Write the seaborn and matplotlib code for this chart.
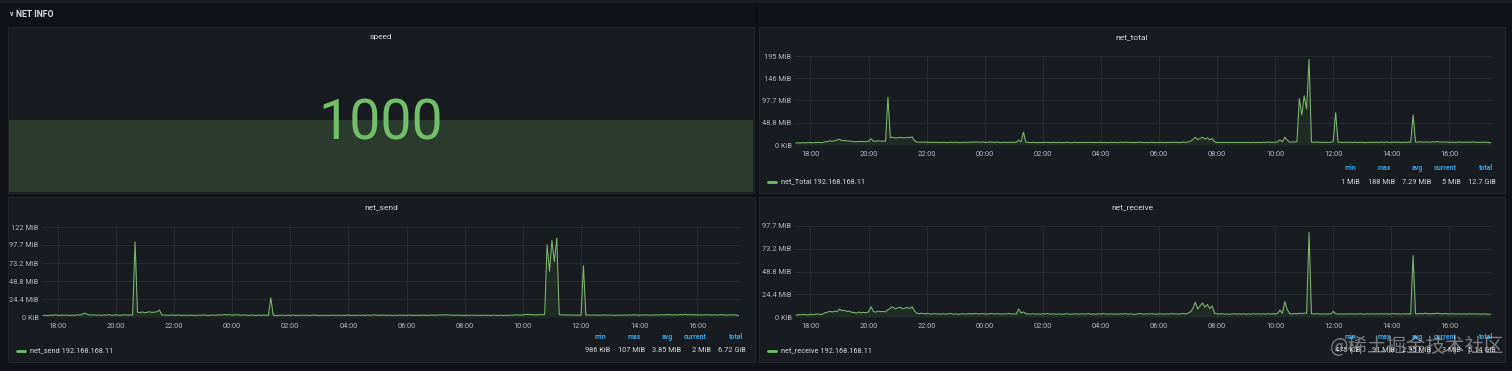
import matplotlib
matplotlib.use("Agg")
import pandas as pd
import matplotlib.pyplot as plt
import matplotlib.dates as mdates
from matplotlib.patches import Rectangle
import seaborn as sns

# ---------------- data ----------------
START = "2021-06-01 17:30"
STEP = "5min"
HOST = "192.168.168.11"
speed_value = 1000

# one row per hour (5-minute samples), first row starts 17:30, values in MiB
net_send = [
    2.1, 2.4, 1.9, 2.6, 2.2, 3.0, 2.5, 2.0, 2.8, 2.3, 2.6, 2.1,
    2.5, 2.2, 3.1, 2.7, 3.4, 5.2, 4.1, 3.0, 2.6, 2.9, 2.4, 2.7,
    2.3, 2.8, 2.5, 3.2, 2.6, 2.4, 3.0, 2.7, 2.2, 2.9, 3.1, 2.5,
    2.8, 2.6, 102, 6.5, 6.1, 6.8, 5.9, 6.4, 7.0, 6.2, 6.6, 7.1,
    9.5, 3.2, 2.4, 2.7, 2.2, 2.9, 2.5, 2.3, 2.8, 2.1, 2.6, 2.4,
    2.2, 2.7, 2.4, 2.0, 2.6, 2.3, 2.9, 2.5, 2.1, 2.4, 2.8, 2.3,
    2.6, 3.0, 2.7, 3.3, 2.9, 3.1, 2.5, 2.8, 3.2, 2.6, 2.4, 2.9,
    2.5, 2.2, 2.8, 2.4, 2.1, 2.6, 2.3, 2.7, 2.4, 2.2, 26.0, 2.5,
    2.3, 2.1, 2.6, 2.4, 2.0, 2.5, 2.2, 2.7, 2.3, 2.1, 2.4, 2.6,
    2.2, 2.5, 2.1, 2.4, 2.7, 2.3, 2.0, 2.6, 2.2, 2.4, 2.1, 2.5,
    2.4, 2.2, 2.6, 2.1, 2.5, 2.3, 2.7, 2.2, 2.4, 2.0, 2.6, 2.3,
    2.5, 2.1, 2.8, 2.3, 2.6, 3.0, 2.4, 2.2, 2.7, 2.5, 2.3, 2.6,
    2.2, 2.4, 2.1, 2.6, 2.3, 2.5, 2.2, 2.7, 2.4, 2.1, 2.5, 2.3,
    2.4, 2.6, 2.3, 2.2, 2.8, 2.5, 2.4, 2.7, 2.9, 2.6, 3.1, 2.8,
    2.7, 2.5, 2.3, 2.6, 2.2, 2.4, 2.1, 2.5, 2.3, 2.6, 2.2, 2.4,
    2.3, 2.1, 2.5, 2.2, 2.4, 2.0, 2.6, 2.3, 2.2, 2.5, 2.1, 2.4,
    2.2, 2.6, 2.4, 3.0, 2.7, 2.5, 2.9, 3.2, 3.6, 3.1, 3.4, 2.8,
    2.9, 3.3, 3.0, 3.6, 98.0, 62.0, 104.0, 75.0, 107.0, 3.2, 2.8, 3.1,
    2.6, 2.9, 2.5, 2.8, 2.4, 2.7, 2.3, 69.6, 2.6, 2.9, 2.5, 2.8,
    2.5, 2.7, 2.3, 2.9, 2.6, 2.4, 2.8, 2.5, 2.2, 2.7, 2.4, 2.6,
    2.8, 2.5, 2.9, 2.6, 3.1, 2.7, 2.4, 2.8, 2.6, 3.0, 2.5, 2.7,
    2.6, 2.9, 2.7, 3.2, 2.8, 3.0, 3.4, 2.9, 2.7, 3.1, 2.8, 3.3,
    3.0, 3.6, 2.9, 3.3, 2.8, 3.1, 2.7, 3.0, 2.6, 2.9, 3.2, 2.8,
    2.7, 3.0, 2.6, 2.9, 3.3, 2.8, 2.5, 2.9, 2.7, 3.1, 2.6, 2.0,
]

net_receive = [
    2.0, 2.6, 2.3, 2.9, 2.4, 2.2, 3.0, 2.5, 2.8, 3.3, 2.7, 3.1,
    4.5, 5.2, 6.0, 5.4, 6.3, 5.8, 8.6, 6.7, 7.2, 5.9, 6.4, 5.1,
    4.8, 4.2, 5.3, 4.6, 5.0, 4.4, 5.6, 11.0, 6.0, 5.2, 6.4, 5.8,
    6.0, 5.5, 7.8, 9.5, 11.0, 8.6, 9.8, 10.5, 8.9, 9.6, 10.2, 9.1,
    11.0, 6.5, 4.0, 3.6, 4.2, 3.3, 3.9, 3.5, 3.0, 3.7, 3.2, 3.4,
    3.1, 3.6, 2.9, 3.3, 3.8, 3.0, 3.5, 2.8, 3.2, 3.6, 3.0, 3.4,
    3.6, 3.2, 3.9, 3.4, 3.1, 3.7, 3.3, 3.0, 3.5, 3.8, 3.2, 3.6,
    3.3, 3.0, 3.5, 3.2, 3.8, 3.1, 3.4, 3.0, 8.6, 4.2, 5.5, 3.6,
    3.4, 3.1, 3.6, 3.0, 3.3, 2.9, 3.5, 3.2, 3.7, 3.0, 3.4, 3.1,
    3.0, 3.4, 2.8, 3.2, 3.6, 3.1, 2.9, 3.5, 3.3, 3.0, 3.4, 3.2,
    3.2, 3.6, 3.0, 3.3, 2.9, 3.5, 3.1, 3.7, 3.2, 3.0, 3.4, 3.1,
    3.3, 2.9, 3.5, 3.2, 3.6, 3.0, 3.4, 3.1, 2.8, 3.3, 3.7, 3.2,
    3.0, 3.4, 3.1, 3.6, 3.2, 2.9, 3.5, 3.3, 3.0, 3.4, 3.1, 3.6,
    3.2, 3.5, 3.0, 3.4, 3.8, 3.3, 4.2, 5.5, 9.0, 16.0, 8.5, 12.0,
    15.0, 10.5, 13.5, 9.0, 11.8, 4.0, 3.4, 3.1, 3.6, 3.0, 3.3, 2.9,
    3.2, 3.5, 3.0, 3.4, 3.1, 3.6, 2.9, 3.3, 3.0, 3.5, 3.2, 3.4,
    3.1, 3.4, 3.0, 3.6, 3.2, 3.5, 3.3, 3.8, 7.5, 4.0, 16.4, 8.0,
    3.5, 3.2, 3.8, 3.4, 4.0, 3.6, 4.2, 3.9, 91.0, 3.5, 3.2, 3.6,
    3.3, 3.0, 3.4, 3.1, 3.5, 3.2, 6.0, 3.6, 3.1, 3.4, 3.0, 3.3,
    3.2, 3.5, 3.1, 3.4, 3.0, 3.6, 3.3, 2.9, 3.5, 3.2, 3.4, 3.1,
    3.4, 3.1, 3.6, 3.2, 3.5, 3.0, 3.3, 3.7, 3.2, 3.4, 3.0, 3.5,
    3.2, 3.5, 3.1, 66.0, 3.6, 3.3, 3.9, 3.4, 4.1, 3.6, 3.2, 3.8,
    3.5, 4.2, 3.6, 3.3, 3.8, 3.4, 3.1, 3.6, 3.3, 3.0, 3.5, 3.2,
    3.4, 3.0, 3.6, 3.2, 3.5, 3.1, 3.3, 2.9, 3.4, 3.2, 3.0, 3.0,
]

net_total = [
    4.1, 5.0, 4.2, 5.5, 4.6, 5.2, 5.5, 4.5, 5.6, 5.6, 5.3, 5.2,
    7.0, 7.4, 9.1, 8.1, 9.7, 11.0, 12.7, 9.7, 9.8, 8.8, 8.8, 7.8,
    7.1, 7.0, 7.8, 7.8, 7.6, 6.8, 8.6, 13.7, 8.2, 8.1, 9.5, 8.3,
    8.8, 8.1, 105.0, 16.0, 17.1, 15.4, 15.7, 16.9, 15.9, 15.8, 16.8, 16.2,
    18.0, 9.7, 6.4, 6.3, 6.4, 6.2, 6.4, 5.8, 5.8, 5.8, 5.8, 5.8,
    5.3, 6.3, 5.3, 5.3, 6.4, 5.3, 6.4, 5.3, 5.3, 6.0, 5.8, 5.7,
    6.2, 6.2, 6.6, 6.7, 6.0, 6.8, 5.8, 5.8, 6.7, 6.4, 5.6, 6.5,
    5.8, 5.2, 6.3, 5.6, 5.9, 5.7, 5.7, 5.7, 11.0, 6.4, 28.0, 6.1,
    5.7, 5.2, 6.2, 5.4, 5.3, 5.4, 5.7, 5.9, 6.0, 5.1, 5.8, 5.7,
    5.2, 5.9, 4.9, 5.6, 6.3, 5.4, 4.9, 6.1, 5.5, 5.4, 5.5, 5.7,
    5.6, 5.8, 5.6, 5.4, 5.4, 5.8, 5.8, 5.9, 5.6, 5.0, 6.0, 5.4,
    5.8, 5.0, 6.3, 5.5, 6.2, 6.0, 5.8, 5.3, 5.5, 5.8, 6.0, 5.8,
    5.2, 5.8, 5.2, 6.2, 5.5, 5.4, 5.7, 6.0, 5.4, 5.5, 5.6, 5.9,
    5.6, 6.1, 5.3, 5.6, 6.6, 5.8, 6.6, 8.2, 11.9, 17.0, 11.6, 14.8,
    17.0, 13.0, 15.8, 11.6, 14.0, 6.4, 5.5, 5.6, 5.9, 5.6, 5.5, 5.3,
    5.5, 5.6, 5.5, 5.6, 5.5, 5.6, 5.5, 5.6, 5.2, 6.0, 5.3, 5.8,
    5.3, 6.0, 5.4, 6.6, 5.9, 6.0, 6.2, 7.0, 11.1, 7.1, 17.0, 10.8,
    6.4, 6.5, 6.8, 7.0, 102.0, 66.0, 108.0, 79.0, 188.0, 6.7, 6.0, 6.7,
    5.9, 5.9, 5.9, 5.9, 5.9, 5.9, 8.3, 71.0, 5.7, 6.3, 5.5, 6.1,
    5.7, 6.2, 5.4, 6.3, 5.6, 6.0, 6.1, 5.4, 5.7, 5.9, 5.8, 5.7,
    6.2, 5.6, 6.5, 5.8, 6.6, 5.7, 5.7, 6.5, 5.8, 6.4, 5.5, 6.2,
    5.8, 6.4, 5.8, 66.0, 6.4, 6.3, 7.3, 6.3, 6.8, 6.7, 6.0, 7.1,
    6.5, 7.8, 6.5, 6.6, 6.6, 6.5, 5.8, 6.6, 5.9, 5.9, 6.7, 6.0,
    6.1, 6.0, 6.2, 6.1, 6.8, 5.9, 5.8, 5.8, 6.1, 6.3, 5.6, 5.0,
]

yticks_total = [0, 48.8, 97.7, 146.5, 195.3]
ylabels_total = ["0 KiB", "48.8 MiB", "97.7 MiB", "146 MiB", "195 MiB"]
yticks_send = [0, 24.4, 48.8, 73.2, 97.7, 122.1]
ylabels_send = ["0 KiB", "24.4 MiB", "48.8 MiB", "73.2 MiB", "97.7 MiB", "122 MiB"]
yticks_recv = [0, 24.4, 48.8, 73.2, 97.7]
ylabels_recv = ["0 KiB", "24.4 MiB", "48.8 MiB", "73.2 MiB", "97.7 MiB"]

stat_headers = ["min", "max", "avg", "current", "total"]
stats_total = ["1 MiB", "188 MiB", "7.29 MiB", "5 MiB", "12.7 GiB"]
stats_send = ["986 KiB", "107 MiB", "3.85 MiB", "2 MiB", "6.72 GiB"]
stats_recv = ["475 KiB", "91 MiB", "2.95 MiB", "3 MiB", "5.14 GiB"]

# ---------------- style ----------------
W, H = 1512, 371
BG = "#111217"
PANEL = "#181b1f"
BORDER = "#24262b"
GRID = "#2a2d33"
GREEN = "#73BF69"
BAND = "#2b3c2e"
TXT = "#d8d9da"
TICK = "#b4b8bf"
BLUE = "#33a2e5"

sns.set_theme(style="dark")
plt.rcParams["font.family"] = ["Roboto", "DejaVu Sans"]

fig = plt.figure(figsize=(W / 100, H / 100), dpi=100, facecolor=BG)


def fx(x):
    return x / W


def fy(y):
    return 1 - y / H


def ftext(x, y, s, **kw):
    fig.text(fx(x), fy(y), s, **kw)


def panel(x0, y0, x1, y1):
    fig.add_artist(Rectangle((fx(x0), fy(y1)), (x1 - x0) / W, (y1 - y0) / H,
                             transform=fig.transFigure, facecolor=PANEL,
                             edgecolor=BORDER, linewidth=0.7, zorder=0))


def axes_px(x0, y0, x1, y1):
    ax = fig.add_axes([fx(x0), fy(y1), (x1 - x0) / W, (y1 - y0) / H])
    ax.set_facecolor("none")
    for s in ax.spines.values():
        s.set_visible(False)
    return ax


times = pd.date_range(START, periods=len(net_send), freq=STEP)
x_lo = times[0] - pd.Timedelta(minutes=2)
x_hi = x_lo + pd.Timedelta(hours=24)

# header row
fig.add_artist(Rectangle((0, fy(3)), 1, 3 / H, transform=fig.transFigure,
                         facecolor="#1c1d22", edgecolor="none"))
fig.add_artist(Rectangle((fx(755), fy(25)), 3 / W, 22 / H, transform=fig.transFigure,
                         facecolor="#0c0d10", edgecolor="none"))
ftext(12, 14.5, "v", color=TXT, fontsize=5, fontweight="bold", ha="center", va="center")
ftext(16, 14.5, "NET INFO", color=TXT, fontsize=6.3, fontweight="bold",
      ha="left", va="center")

# ---------------- speed panel ----------------
panel(8, 27, 754, 193)
ftext(381, 37, "speed", color=TXT, fontsize=6, ha="center", va="center")
sax = axes_px(9, 28, 753, 192)
sax.fill_between([x_lo, x_hi], [speed_value, speed_value], color=BAND, linewidth=0)
sax.set_xlim(x_lo, x_hi)
sax.set_ylim(0, speed_value * 2.28)
sax.set_xticks([])
sax.set_yticks([])
sax.grid(False)
ftext(381, 140, f"{speed_value}", color=GREEN, fontsize=40, ha="center",
      va="baseline", zorder=5)


# ---------------- graph panels ----------------
def graph(pbox, abox, title, series, name, yt, ytl, stats):
    px0, py0, px1, py1 = pbox
    panel(*pbox)
    ftext((px0 + px1) / 2, py0 + 10, title, color=TXT, fontsize=6,
          ha="center", va="center")
    ax = axes_px(*abox)
    df = pd.DataFrame({"time": times, "value": series})
    ax.fill_between(df["time"], df["value"], color=GREEN, alpha=0.1, linewidth=0)
    sns.lineplot(data=df, x="time", y="value", ax=ax, color="#7eb86f", linewidth=0.75)
    ax.set_xlim(x_lo, x_hi)
    ax.set_ylim(0, yt[-1])
    ax.set_yticks(yt)
    ax.set_yticklabels(ytl)
    ax.xaxis.set_major_locator(mdates.HourLocator(byhour=range(0, 24, 2)))
    ax.xaxis.set_major_formatter(mdates.DateFormatter("%H:%M"))
    ax.set_xlabel("")
    ax.set_ylabel("")
    ax.grid(True, color=GRID, linewidth=0.6)
    ax.set_axisbelow(True)
    ax.tick_params(axis="both", length=0, labelsize=5.3, colors=TICK)
    ax.tick_params(axis="y", pad=2.5)
    ax.tick_params(axis="x", pad=4)
    # legend
    ly = py1 - 11
    fig.add_artist(plt.Line2D([fx(px0 + 9), fx(px0 + 17)], [fy(ly), fy(ly)],
                              transform=fig.transFigure, color=GREEN, linewidth=2))
    ftext(px0 + 22, ly, f"{name} {HOST}", color=TXT, fontsize=5.3,
          ha="left", va="center")
    hdr_off = [-149, -114, -82, -48, -12]
    val_off = [-145, -110, -74, -44, -9]
    for h, v, ho, vo in zip(stat_headers, stats, hdr_off, val_off):
        ftext(px1 + ho, ly - 14, h, color=BLUE, fontsize=5, fontweight="bold",
              ha="right", va="center")
        ftext(px1 + vo, ly, v, color=TXT, fontsize=5.3, ha="right", va="center")
    return ax


graph((759, 27, 1505, 193), (795, 56, 1492, 145), "net_total", net_total,
      "net_Total", yticks_total, ylabels_total, stats_total)
graph((8, 197, 755, 362), (42, 227, 740, 317), "net_send", net_send,
      "net_send", yticks_send, ylabels_send, stats_send)
graph((759, 197, 1505, 362), (795, 226, 1492, 317), "net_receive", net_receive,
      "net_receive", yticks_recv, ylabels_recv, stats_recv)

# watermark (overlaps the legend values, as in the source screenshot)
ftext(1417, 347, "@稀土掘金技术社区", color=(1, 1, 1, 0.42), fontsize=14,
      ha="center", va="center", family=["Noto Sans CJK SC", "DejaVu Sans"], zorder=10)

fig.savefig("out.png", dpi=100, facecolor=BG)
